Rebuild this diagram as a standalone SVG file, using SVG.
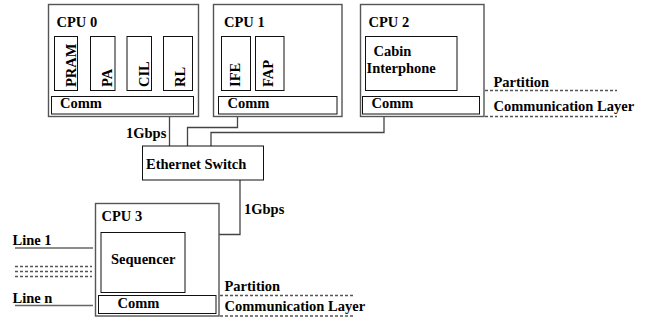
<svg xmlns="http://www.w3.org/2000/svg" width="656" height="325" viewBox="0 0 656 325">
<style>
text{font-family:"Liberation Serif","Times New Roman",serif;font-weight:bold;font-size:14.5px;fill:#000}
.cpu{fill:#fff;stroke:#555;stroke-width:1.4}
.box{fill:#fff;stroke:#111;stroke-width:1}
.wire{fill:none;stroke:#444;stroke-width:1.3}
.dash{fill:none;stroke:#555;stroke-width:1.3;stroke-dasharray:3,2}
.solid{fill:none;stroke:#666;stroke-width:1.4}
</style>
<rect width="656" height="325" fill="#fff"/>
<g id="connectors">
<path class="wire" d="M169.5,116 V146"/>
<path class="wire" d="M187.5,146 V127.5 H237.5 V116"/>
<path class="wire" d="M211,146 V132.5 H384 V116"/>
<path class="wire" d="M240,180 V234.5 H219"/>
<text x="126" y="137.5">1Gbps</text>
<text x="244" y="213.5">1Gbps</text>
</g>
<g id="cpu0">
<rect class="cpu" x="48.5" y="4.5" width="150" height="112"/>
<text x="56.5" y="26.5">CPU 0</text>
<rect class="box" x="54.5" y="36.5" width="23" height="54"/>
<text transform="translate(76,87) rotate(-90)">PRAM</text>
<rect class="box" x="90.5" y="36.5" width="24.5" height="54"/>
<text transform="translate(111.5,87) rotate(-90)">PA</text>
<rect class="box" x="127" y="36.5" width="24.5" height="54"/>
<text transform="translate(149,87) rotate(-90)">CIL</text>
<rect class="box" x="163.5" y="36.5" width="29" height="54"/>
<text transform="translate(185,87) rotate(-90)">RL</text>
<rect class="box" x="51.5" y="96.5" width="142" height="17.5"/>
<text x="60" y="107.5">Comm</text>
</g>
<g id="cpu1">
<rect class="cpu" x="213.5" y="4.5" width="128.5" height="112"/>
<text x="224" y="26.5">CPU 1</text>
<rect class="box" x="221.5" y="36.5" width="29" height="54"/>
<text transform="translate(239.5,87) rotate(-90)">IFE</text>
<rect class="box" x="255.5" y="36.5" width="28.5" height="54"/>
<text transform="translate(272.5,87) rotate(-90)">FAP</text>
<rect class="box" x="218.5" y="96.5" width="118.5" height="17.5"/>
<text x="227.5" y="107.5">Comm</text>
</g>
<g id="cpu2">
<rect class="cpu" x="360.5" y="4.5" width="123.5" height="112"/>
<text x="368.5" y="26.5">CPU 2</text>
<rect class="box" x="365.5" y="36.5" width="91.5" height="54"/>
<text x="373.5" y="56">Cabin</text>
<text x="366.5" y="72.5">Interphone</text>
<rect class="box" x="362.5" y="96.5" width="117" height="17.5"/>
<text x="371.5" y="107.5">Comm</text>
</g>
<g id="legend-top">
<text x="493.5" y="87">Partition</text>
<path class="dash" d="M485,90.5 H617"/>
<text x="493.5" y="110.5">Communication Layer</text>
<path class="dash" d="M485,116.5 H617"/>
</g>
<g id="switch">
<rect class="box" x="142.5" y="146" width="121" height="34"/>
<text x="146" y="169">Ethernet Switch</text>
</g>
<g id="cpu3">
<rect class="cpu" x="95.5" y="203.5" width="123.5" height="112.5"/>
<text x="101.5" y="221">CPU 3</text>
<rect class="box" x="101" y="232.5" width="84" height="60"/>
<text x="111" y="264">Sequencer</text>
<rect class="box" x="98.5" y="295.5" width="117.5" height="18"/>
<text x="117.5" y="307.5">Comm</text>
</g>
<g id="legend-bottom">
<text x="224.5" y="291">Partition</text>
<path class="dash" d="M220,295.5 H353"/>
<text x="224.5" y="310.5">Communication Layer</text>
<path class="dash" d="M220,316 H353"/>
</g>
<g id="lines">
<text x="12.5" y="245">Line 1</text>
<path class="solid" d="M15,248 H93"/>
<path class="dash" d="M15,266.5 H92 M15,271.5 H92 M15,276.5 H92"/>
<text x="12.5" y="302.5">Line n</text>
<path class="solid" d="M15,305.5 H93"/>
</g>
</svg>
